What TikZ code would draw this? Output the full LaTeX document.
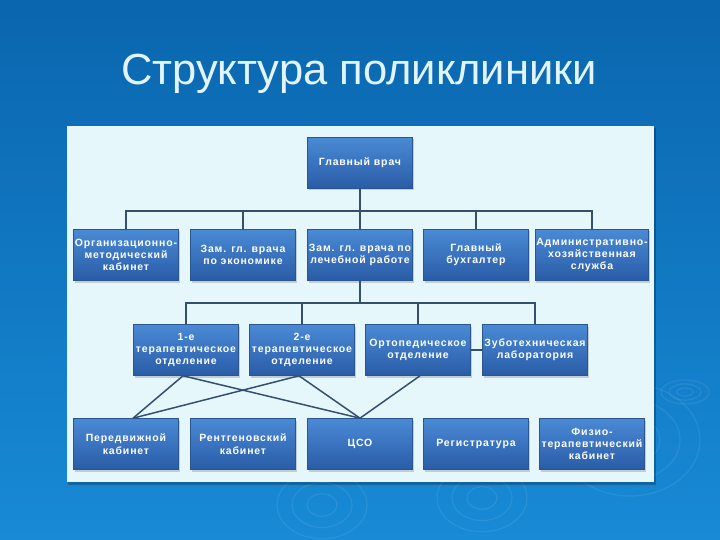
\documentclass[tikz,border=0pt]{standalone}
\usepackage{fontspec}
\usetikzlibrary{shadows,calc}
\newfontfamily\titlefont{Liberation Sans}
\newfontfamily\boxfont[LetterSpace=8]{Liberation Sans}
\definecolor{bgtop}{HTML}{0A66AE}
\definecolor{bgbot}{HTML}{188AD6}
\definecolor{panelc}{HTML}{E6F7FB}
\definecolor{boxtop}{HTML}{4A8AD4}
\definecolor{boxmid}{HTML}{3A73BF}
\definecolor{boxbot}{HTML}{2A5CA6}
\definecolor{boxedge}{HTML}{2A5590}
\definecolor{linec}{HTML}{34506E}
\definecolor{titlec}{HTML}{E2F5FF}
\tikzset{
  orgbox/.style={rectangle, minimum width=105pt, minimum height=51pt, inner sep=1pt,
    top color=boxtop, bottom color=boxbot, middle color=boxmid,
    draw=boxedge, line width=0.6pt, align=center, text=white,
    font=\boxfont\bfseries\fontsize{10.5pt}{12.3pt}\selectfont,
    drop shadow={shadow xshift=1pt, shadow yshift=-2pt, opacity=0.35}},
  conn/.style={draw=linec, line width=1.5pt},
  ripple/.style={draw=white, line width=1.2pt, opacity=0.08}
}
\begin{document}
\begin{tikzpicture}[x=1pt,y=-1pt]
\useasboundingbox (0,0) rectangle (720,540);
% background
\shade[top color=bgtop, bottom color=bgbot] (0,0) rectangle (720,540);
% ripples
\foreach \r in {8,16,24} {\draw[ripple] (685,392) ellipse ({\r pt} and {\r*0.5 pt});}
\foreach \r in {15,30,45} {\draw[ripple] (322,505) ellipse ({\r pt} and {\r*0.75 pt});}
\foreach \r in {15,30,45} {\draw[ripple] (482,498) ellipse ({\r pt} and {\r*0.75 pt});}
\foreach \r in {30,50,70} {\draw[ripple] (630,440) ellipse ({\r pt} and {\r*0.8 pt});}
% title
\node[anchor=base, text=titlec, font=\titlefont\fontsize{43.5pt}{50pt}\selectfont, inner sep=0pt] (title) at (359,85) {Структура поликлиники};
% panel
\fill[black, opacity=0.25] (68,128) rectangle (656,485);
\fill[panelc] (67,126) rectangle (654,482);
% boxes
\node[orgbox] (top) at (360,163) {Главный врач};
\node[orgbox] (b1) at (126,255) {Организационно-\\методический\\кабинет};
\node[orgbox] (b2) at (243,255) {Зам. гл. врача\\по экономике};
\node[orgbox] (b3) at (360,255) {Зам. гл. врача по\\лечебной работе};
\node[orgbox] (b4) at (476,255) {Главный\\бухгалтер};
\node[orgbox] (b5) at (592,255) {Административно-\\хозяйственная\\служба};
\node[orgbox] (c1) at (186,350) {1-е\\терапевтическое\\отделение};
\node[orgbox] (c2) at (302,350) {2-е\\терапевтическое\\отделение};
\node[orgbox] (c3) at (418,350) {Ортопедическое\\отделение};
\node[orgbox] (c4) at (535,350) {Зуботехническая\\лаборатория};
\node[orgbox] (d1) at (126,444) {Передвижной\\кабинет};
\node[orgbox] (d2) at (243,444) {Рентгеновский\\кабинет};
\node[orgbox] (d3) at (360,444) {ЦСО};
\node[orgbox] (d4) at (476,444) {Регистратура};
\node[orgbox] (d5) at (592,444) {Физио-\\терапевтический\\кабинет};
% bus 1
\coordinate (j1) at ($(top.south)+(0,22)$);
\draw[conn] (top.south) -- (j1);
\draw[conn] (b1.north) |- (j1) -| (b5.north);
\draw[conn] (b2.north) -- (b2.north |- j1);
\draw[conn] (b3.north) -- (j1);
\draw[conn] (b4.north) -- (b4.north |- j1);
% bus 2
\coordinate (j2) at ($(b3.south)+(0,22)$);
\draw[conn] (b3.south) -- (j2);
\draw[conn] (c1.north) |- (j2) -| (c4.north);
\draw[conn] (c2.north) -- (c2.north |- j2);
\draw[conn] (c3.north) -- (c3.north |- j2);
\draw[conn] (c3.east) -- (c4.west);
% cross links
\coordinate (c1s) at ($(c1.south)+(-3,0)$);
\coordinate (c2s) at ($(c2.south)+(-3,0)$);
\coordinate (c3s) at ($(c3.south)+(2,0)$);
\coordinate (d1n) at ($(d1.north)+(7,0)$);
\draw[conn] (c1s) -- (d1n);
\draw[conn] (c1s) -- (d3.north);
\draw[conn] (c2s) -- (d1n);
\draw[conn] (c2s) -- (d3.north);
\draw[conn] (c3s) -- (d3.north);
\end{tikzpicture}
\end{document}
